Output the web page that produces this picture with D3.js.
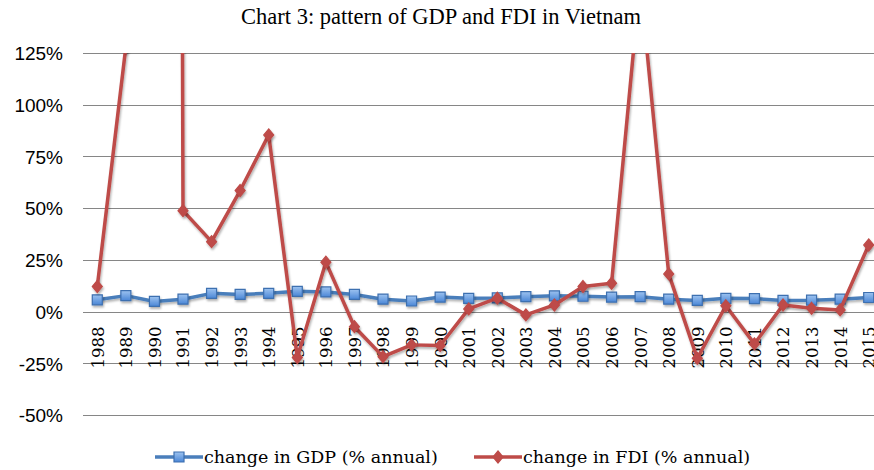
<!DOCTYPE html>
<html>
<head>
<meta charset="utf-8">
<script src="https://cdn.jsdelivr.net/npm/d3@7"></script>
<style>
  body { margin: 0; background: #fff; }
  #chart { width: 874px; height: 470px; }
</style>
</head>
<body>
<div id="chart"></div>
<script>
// data (% annual change)
const years = ["1988","1989","1990","1991","1992","1993","1994","1995","1996","1997",
    "1998","1999","2000","2001","2002","2003","2004","2005","2006","2007",
    "2008","2009","2010","2011","2012","2013","2014","2015"];
const gdpChange = [5.7, 7.7, 4.9, 6.0, 8.8, 8.3, 8.8, 9.8, 9.5, 8.3,
    6.0, 5.1, 7.0, 6.4, 6.6, 7.2, 7.6, 7.4, 7.0, 7.2,
    6.0, 5.4, 6.4, 6.3, 5.4, 5.5, 6.0, 6.8];
const fdiChange = [12.1, 128, 4400, 48.8, 33.8, 58.5, 85.4, -22.2, 23.9, -7.3,
    -21.8, -16.1, -16.4, 1.3, 6.5, -1.6, 3.2, 12.1, 13.7, 160,
    18.2, -22.6, 2.8, -15.6, 3.2, 1.6, 0.8, 32.2];
const yTicks = [-50, -25, 0, 25, 50, 75, 100, 125];
const seriesNames = ["change in GDP (% annual)", "change in FDI (% annual)"];

const W = 874, H = 470;
const plot = {left: 83, right: 883, top: 53, bottom: 415};

const svg = d3.select("#chart").append("svg")
    .attr("width", W)
    .attr("height", H);

const defs = svg.append("defs");
defs.append("clipPath").attr("id", "plotClip")
    .append("rect")
    .attr("x", plot.left)
    .attr("y", plot.top)
    .attr("width", plot.right - plot.left)
    .attr("height", plot.bottom - plot.top);

// soft shadow like the excel markers
const shadow = defs.append("filter").attr("id", "shadow")
    .attr("x", "-50%").attr("y", "-50%").attr("width", "200%").attr("height", "200%");
shadow.append("feDropShadow")
    .attr("dx", 1).attr("dy", 2).attr("stdDeviation", 1.2)
    .attr("flood-color", "#000").attr("flood-opacity", 0.3);

const blueGrad = defs.append("linearGradient").attr("id", "blueGrad")
    .attr("x1", 0).attr("y1", 0).attr("x2", 0).attr("y2", 1);
blueGrad.append("stop").attr("offset", "0%").attr("stop-color", "#9dc3f0");
blueGrad.append("stop").attr("offset", "100%").attr("stop-color", "#4a86d6");

const x = d3.scalePoint()
    .domain(years)
    .range([plot.left, plot.right])
    .padding(0.5);

const y = d3.scaleLinear()
    .domain([-50, 125])
    .range([plot.bottom, plot.top]);

// title
svg.append("text")
    .attr("x", 441)
    .attr("y", 24)
    .attr("text-anchor", "middle")
    .style("font-family", "'Liberation Serif', 'Times New Roman', serif")
    .style("font-size", "22.5px")
    .style("fill", "#000")
    .text("Chart 3: pattern of GDP and FDI in Vietnam");

// gridlines
svg.append("g")
    .selectAll("line")
    .data(yTicks)
    .join("line")
    .attr("x1", plot.left)
    .attr("x2", plot.right)
    .attr("y1", d => Math.round(y(d)) + 0.5)
    .attr("y2", d => Math.round(y(d)) + 0.5)
    .attr("stroke", "#868686")
    .attr("stroke-width", 1);

// y axis labels
const yAxis = svg.append("g")
    .attr("transform", `translate(${plot.left - 20},0)`)
    .call(d3.axisLeft(y).tickValues(yTicks).tickSize(0).tickFormat(d => d + "%"));
yAxis.select(".domain").remove();
yAxis.selectAll("text")
    .attr("x", 0)
    .attr("dy", "0.36em")
    .style("font-family", "'Liberation Sans', Arial, sans-serif")
    .style("font-size", "19px")
    .style("fill", "#000");

// x axis labels: rotated years hanging below the 0% line
const xAxis = svg.append("g")
    .attr("transform", `translate(0,${y(0)})`)
    .call(d3.axisBottom(x).tickSize(0));
xAxis.select(".domain").remove();
xAxis.selectAll("text")
    .attr("transform", "rotate(-90)")
    .attr("x", -15)
    .attr("y", 0)
    .attr("dy", "0.36em")
    .attr("text-anchor", "end")
    .style("font-family", "'DejaVu Serif', serif")
    .style("font-size", "16.5px")
    .style("fill", "#000");

const series = [
    {name: seriesNames[0], values: gdpChange, color: "#4a7ebb", marker: "square"},
    {name: seriesNames[1], values: fdiChange, color: "#be4b48", marker: "diamond"}
];

const line = d3.line()
    .x((d, i) => x(years[i]))
    .y(d => y(d));

const markerPath = {
    square: d3.symbol().type(d3.symbolSquare).size(100)(),
    diamond: "M0,-6L5,0L0,6L-5,0Z"
};

const plotG = svg.append("g").attr("clip-path", "url(#plotClip)");

series.forEach(s => {
    const g = plotG.append("g");
    g.append("path")
        .datum(s.values)
        .attr("fill", "none")
        .attr("stroke", s.color)
        .attr("stroke-width", 3.5)
        .attr("stroke-linejoin", "round")
        .attr("filter", "url(#shadow)")
        .attr("d", line);

    g.selectAll("path.marker")
        .data(s.values)
        .join("path")
        .attr("class", "marker")
        .attr("transform", (d, i) => `translate(${x(years[i])},${y(d)})`)
        .attr("d", markerPath[s.marker])
        .attr("fill", s.marker === "square" ? "url(#blueGrad)" : s.color)
        .attr("stroke", s.marker === "square" ? "#3c6fb0" : s.color)
        .attr("stroke-width", 1.2)
        .attr("filter", "url(#shadow)");
});

// legend
const legendItems = [
    {x: 155, series: series[0]},
    {x: 474, series: series[1]}
];
const legend = svg.append("g").attr("transform", "translate(0,457)");
legendItems.forEach(item => {
    const g = legend.append("g").attr("transform", `translate(${item.x},0)`);
    g.append("line")
        .attr("x1", 0).attr("x2", 48)
        .attr("y1", 0).attr("y2", 0)
        .attr("stroke", item.series.color)
        .attr("stroke-width", 3.5);
    g.append("path")
        .attr("transform", "translate(24,0)")
        .attr("d", markerPath[item.series.marker])
        .attr("fill", item.series.marker === "square" ? "url(#blueGrad)" : item.series.color)
        .attr("stroke", item.series.marker === "square" ? "#3c6fb0" : item.series.color)
        .attr("stroke-width", 1.2);
    g.append("text")
        .attr("x", 49)
        .attr("y", 6)
        .style("font-family", "'DejaVu Serif', serif")
        .style("font-size", "17.5px")
        .style("fill", "#000")
        .text(item.series.name);
});
</script>
</body>
</html>
